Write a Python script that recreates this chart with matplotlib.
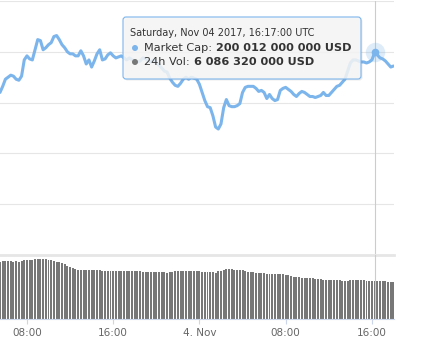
import numpy as np
import pandas as pd
import matplotlib
matplotlib.use('Agg')
import matplotlib.pyplot as plt
from matplotlib.patches import FancyBboxPatch, Circle
from matplotlib.transforms import IdentityTransform

# 15-minute samples, Nov 3 05:30 -> Nov 4 18:00 (UTC)
times = pd.date_range("2017-11-03 05:30", periods=147, freq="15min")

# total market cap, billions USD
market_cap = [
    196.0, 196.6, 197.3, 197.5, 197.7, 197.6, 197.3, 197.2, 197.6, 199.2,
    199.6, 199.3, 199.2, 200.2, 201.2, 201.1, 200.2, 200.4, 200.7, 200.9,
    201.5, 201.6, 201.2, 200.7, 200.4, 200.0, 199.8, 199.8, 199.6, 199.6,
    200.1, 199.6, 198.8, 199.2, 198.5, 199.1, 199.8, 200.2, 199.2, 199.3,
    199.7, 199.9, 199.6, 199.4, 199.5, 199.6, 199.4, 199.2, 199.4, 199.2,
    199.1, 199.0, 199.1, 199.4, 199.3, 199.1, 199.0, 199.2, 198.9, 198.7,
    198.4, 198.1, 198.0, 197.4, 197.0, 196.7, 196.6, 196.9, 197.3, 197.5,
    197.3, 197.5, 197.4, 197.3, 196.8, 196.0, 195.2, 194.6, 194.5, 193.7,
    192.6, 192.4, 192.9, 194.5, 195.3, 194.7, 194.6, 194.6, 194.7, 194.9,
    196.0, 196.5, 196.6, 196.6, 196.6, 196.4, 196.1, 196.2, 196.0, 195.4,
    195.8, 195.4, 195.2, 195.3, 196.2, 196.4, 196.5, 196.3, 196.1, 195.8,
    195.6, 195.9, 196.1, 196.0, 195.8, 195.6, 195.6, 195.5, 195.6, 195.7,
    196.0, 195.7, 195.7, 196.0, 196.3, 196.6, 196.7, 197.0, 197.3, 198.1,
    198.9, 199.2, 199.2, 199.1, 199.0, 199.0, 198.9, 199.0, 199.2, 199.9,
    199.7, 199.4, 199.3, 199.1, 198.8, 198.5, 198.6,
]

# 24h volume, billions USD
volume = [
    9.12, 9.28, 9.28, 9.28, 9.28, 9.12, 9.28, 9.12, 9.28, 9.44,
    9.44, 9.52, 9.52, 9.60, 9.60, 9.60, 9.60, 9.60, 9.52, 9.44,
    9.28, 9.20, 9.12, 9.04, 8.80, 8.48, 8.32, 8.16, 8.00, 7.92,
    7.84, 7.84, 7.84, 7.84, 7.84, 7.84, 7.84, 7.84, 7.76, 7.68,
    7.68, 7.68, 7.68, 7.68, 7.68, 7.68, 7.68, 7.68, 7.68, 7.68,
    7.68, 7.68, 7.68, 7.52, 7.52, 7.52, 7.52, 7.52, 7.52, 7.52,
    7.52, 7.52, 7.44, 7.52, 7.60, 7.68, 7.68, 7.68, 7.68, 7.68,
    7.68, 7.68, 7.68, 7.68, 7.68, 7.60, 7.60, 7.60, 7.60, 7.60,
    7.36, 7.68, 7.76, 7.84, 8.00, 8.00, 8.00, 7.92, 7.84, 7.84,
    7.84, 7.68, 7.52, 7.52, 7.52, 7.44, 7.36, 7.36, 7.31, 7.28,
    7.20, 7.20, 7.20, 7.20, 7.20, 7.20, 7.04, 7.04, 6.88, 6.80,
    6.77, 6.72, 6.56, 6.56, 6.56, 6.56, 6.56, 6.48, 6.40, 6.40,
    6.24, 6.24, 6.24, 6.24, 6.24, 6.24, 6.24, 6.16, 6.09, 6.09,
    6.24, 6.24, 6.24, 6.24, 6.24, 6.24, 6.09, 6.09, 6.09, 6.09,
    6.09, 6.09, 6.09, 6.09, 6.00, 5.92, 5.92,
]

cap_grid = [180, 185, 190, 195, 200, 205]
tick_times = pd.to_datetime(["2017-11-03 08:00", "2017-11-03 16:00",
                             "2017-11-04 00:00", "2017-11-04 08:00",
                             "2017-11-04 16:00"])
tick_labels = ["08:00", "16:00", "4. Nov", "08:00", "16:00"]

hover_time = pd.Timestamp("2017-11-04 16:17:00")
hover_cap = 200.012
hover_vol = 6.08632

line_color = '#7cb5ec'
bar_color = '#777777'
grid_color = '#e6e6e6'

W, H = 446, 360
fig = plt.figure(figsize=(W / 100, H / 100), dpi=100)
ax = fig.add_axes([0, 105 / H, 394 / W, 254 / H])
axv = fig.add_axes([0, 41 / H, 394 / W, 64 / H], sharex=ax)

# market cap pane
ax.plot(times, market_cap, color=line_color, lw=2.2, solid_joinstyle='round',
        solid_capstyle='round', zorder=3)
ax.set_ylim(cap_grid[0], cap_grid[-1])
ax.set_yticks(cap_grid)
ax.grid(axis='y', color=grid_color, lw=0.8)
ax.grid(axis='x', visible=False)
for s in ax.spines.values():
    s.set_visible(False)
ax.tick_params(left=False, labelleft=False, bottom=False, labelbottom=False)
ax.set_axisbelow(True)

# crosshair + hover marker
ax.axvline(hover_time, color='#cccccc', lw=0.8, zorder=2)
ax.plot([hover_time], [hover_cap], 'o', ms=14, color=line_color, alpha=0.25,
        mec='none', zorder=4)
ax.plot([hover_time], [hover_cap], 'o', ms=5.5, color=line_color, mec='none', zorder=5)

# volume pane
axv.bar(times, volume, width=11 / 1440, color=bar_color, linewidth=0, zorder=2)
axv.set_ylim(0, 10.24)
axv.axhline(10.24, color=grid_color, lw=2, clip_on=False, zorder=1)
axv.axvline(hover_time, color='#cccccc', lw=0.8, zorder=3)
for k in ['top', 'left', 'right']:
    axv.spines[k].set_visible(False)
axv.spines['bottom'].set_color('#ccd6eb')
axv.spines['bottom'].set_linewidth(0.8)
axv.set_yticks([])
axv.set_xticks(tick_times)
axv.set_xticklabels(tick_labels)
axv.tick_params(axis='x', colors='#ccd6eb', labelcolor='#666666', length=3.6,
                width=0.8, labelsize=7.5, pad=3)
axv.set_xlim(times[0], pd.Timestamp("2017-11-04 18:03"))

# tooltip (pixel coordinates, origin top-left converted to display)
ident = IdentityTransform()
bx0, by0, bx1, by1 = 123, 17, 361, 79
shadow = FancyBboxPatch((bx0 + 1.5, H - by1 - 1.5), bx1 - bx0, by1 - by0,
                        boxstyle="round,pad=0,rounding_size=3", transform=ident,
                        fc=(0, 0, 0, 0.08), ec='none', zorder=5)
fig.add_artist(shadow)
box = FancyBboxPatch((bx0, H - by1), bx1 - bx0, by1 - by0,
                     boxstyle="round,pad=0,rounding_size=3", transform=ident,
                     fc=(0.969, 0.969, 0.969, 0.85), ec=line_color, lw=0.8, zorder=6)
fig.add_artist(box)

title = hover_time.strftime("%A, %b %d %Y, %H:%M:%S UTC")
cap_txt = f"{round(hover_cap * 1e9):,}".replace(",", " ") + " USD"
vol_txt = f"{round(hover_vol * 1e9):,}".replace(",", " ") + " USD"

fig.text(130, H - 33, title, transform=ident, fontsize=7.0, color='#333333',
         va='center', ha='left', zorder=7)
fig.add_artist(Circle((135, H - 48), 3, transform=ident, fc=line_color, ec='none', zorder=7))
fig.add_artist(Circle((135, H - 62), 3, transform=ident, fc=bar_color, ec='none', zorder=7))
t1 = fig.text(144, H - 48, "Market Cap:", transform=ident, fontsize=8.1, color='#333333',
              va='center', ha='left', zorder=7)
t2 = fig.text(144, H - 62, "24h Vol:", transform=ident, fontsize=8.1, color='#333333',
              va='center', ha='left', zorder=7)
fig.canvas.draw()
r = fig.canvas.get_renderer()
x1 = t1.get_window_extent(r).x1 + 4
x2 = t2.get_window_extent(r).x1 + 4
fig.text(x1, H - 48, cap_txt, transform=ident, fontsize=8.1, color='#333333',
         fontweight='bold', va='center', ha='left', zorder=7)
fig.text(x2, H - 62, vol_txt, transform=ident, fontsize=8.1, color='#333333',
         fontweight='bold', va='center', ha='left', zorder=7)

fig.savefig('out.png', dpi=100)
